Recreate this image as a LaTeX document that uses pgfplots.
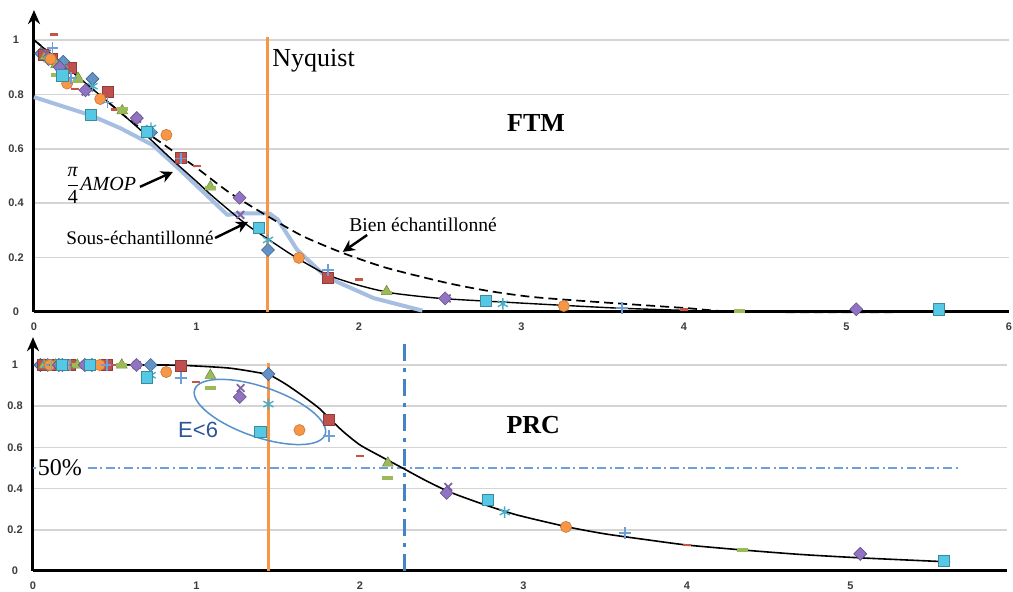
\documentclass[border=0pt]{standalone}
\usepackage{fontspec}
\setmainfont{Liberation Serif}
\setsansfont{Liberation Sans}
\usepackage{pgfplots}
\pgfplotsset{compat=1.18}
\usetikzlibrary{arrows.meta,shapes.geometric}

\definecolor{cBlue}{RGB}{74,126,187}
\definecolor{cRed}{RGB}{192,80,77}
\definecolor{cGreen}{RGB}{155,187,89}
\definecolor{cPurple}{RGB}{128,100,162}
\definecolor{cPurpleL}{RGB}{145,115,195}
\definecolor{cCyan}{RGB}{75,172,198}
\definecolor{cCyanL}{RGB}{85,200,230}
\definecolor{cOrange}{RGB}{247,150,70}
\definecolor{cPlus}{RGB}{110,160,215}
\definecolor{lblue}{RGB}{165,190,225}
\definecolor{nyq}{RGB}{247,150,70}
\definecolor{vblue}{RGB}{70,130,200}
\definecolor{hblue}{RGB}{110,160,215}
\definecolor{ellc}{RGB}{85,145,205}
\definecolor{etext}{RGB}{45,85,150}
\definecolor{gridc}{RGB}{212,212,212}
\definecolor{tickc}{RGB}{60,60,60}

\pgfplotsset{
 myax/.style={scale only axis, axis lines=left,
   axis line style={-},
   x axis line style={-, line width=1.5pt},
   y axis line style={line width=1.5pt, -{Stealth[length=7pt,width=6pt]}},
   ymajorgrids, grid style={draw=gridc, line width=0.75pt},
   major tick length=0pt,
   tick label style={font=\sffamily\bfseries\fontsize{5.5}{6}\selectfont, text=tickc},
   /pgf/number format/assume math mode=true,
   yticklabel style={anchor=center, xshift=-9pt},
   xticklabel style={yshift=-2pt},
   clip=false, ymin=0, ytick={0,0.2,0.4,0.6,0.8,1}},
 mBD/.style={only marks, mark=square*, mark size=2.3pt, mark options={rotate=45, fill=cBlue!85!white, draw=cBlue!80!black, line width=0.3pt}},
 mRS/.style={only marks, mark=square*, mark size=2.7pt, mark options={fill=cRed, draw=cRed!75!black, line width=0.3pt}},
 mGT/.style={only marks, mark=triangle*, mark size=3.1pt, mark options={fill=cGreen, draw=cGreen!75!black, line width=0.3pt}},
 mPX/.style={only marks, mark=x, mark size=2.7pt, mark options={draw=cPurple, line width=0.9pt}},
 mCA/.style={only marks, mark=asterisk, mark size=2.9pt, mark options={draw=cCyan, line width=0.7pt}},
 mOC/.style={only marks, mark=*, mark size=2.8pt, mark options={fill=cOrange, draw=cOrange!80!black, line width=0.3pt}},
 mBP/.style={only marks, mark=+, mark size=2.9pt, mark options={draw=cPlus, line width=0.8pt}},
 mRD/.style={only marks, mark=-, mark size=2pt, mark options={draw=cRed!90!orange, line width=1.4pt}},
 mGD/.style={only marks, mark=-, mark size=2.7pt, mark options={draw=cGreen, line width=1.9pt}},
 mPD/.style={only marks, mark=square*, mark size=2.3pt, mark options={rotate=45, fill=cPurpleL, draw=cPurple!80!black, line width=0.3pt}},
 mCS/.style={only marks, mark=square*, mark size=2.8pt, mark options={fill=cCyanL, draw=cCyan!80!black, line width=0.3pt}},
}

\begin{document}
\begin{tikzpicture}
\useasboundingbox (0pt,0pt) rectangle (506.5pt,296pt);

% ---------------- FTM (top) ----------------
\begin{axis}[myax, at={(17pt,140pt)}, anchor=south west,
  width=487.5pt, height=150.96pt, xmin=0, xmax=6, ymax=1.11,
  xtick={0,1,2,3,4,5,6}]
% sous-echantillonne (light blue)
\addplot[lblue, line width=2pt, line join=round] coordinates {
 (0,0.79) (0.345,0.724) (0.53,0.676) (0.73,0.614) (0.88,0.533) (1.19,0.357)
 (1.27,0.363) (1.45,0.362) (1.5,0.34) (1.62,0.228) (1.8,0.128) (2.09,0.051) (2.39,0.005)};
% Nyquist
\addplot[nyq, line width=1.5pt] coordinates {(1.435,0) (1.435,1.01)};
% markers
\addplot[mBD] coordinates {(0.045,0.95) (0.09,0.93) (0.18,0.92) (0.36,0.857) (0.72,0.66) (1.44,0.228)};
\addplot[mRS] coordinates {(0.057,0.945) (0.113,0.93) (0.226,0.897) (0.4525,0.809) (0.905,0.566) (1.81,0.125)};
\addplot[mGT] coordinates {(0.068,0.94) (0.136,0.91) (0.271,0.86) (0.543,0.74) (1.085,0.46) (2.17,0.075)};
\addplot[mPX] coordinates {(0.079,0.95) (0.159,0.9) (0.3175,0.81) (0.635,0.71) (1.27,0.357) (2.54,0.05)};
\addplot[mCA] coordinates {(0.09,0.93) (0.18,0.91) (0.36,0.83) (0.72,0.676) (1.44,0.265) (2.885,0.03)};
\addplot[mOC] coordinates {(0.102,0.93) (0.204,0.84) (0.4075,0.783) (0.815,0.651) (1.63,0.199) (3.26,0.022)};
\addplot[mBP] coordinates {(0.113,0.97) (0.226,0.86) (0.453,0.77) (0.905,0.565) (1.81,0.154) (3.62,0.015)};
\addplot[mRD] coordinates {(0.125,1.02) (0.25,0.82) (0.5,0.745) (1.0,0.537) (2.0,0.118) (4.0,0.01)};
\addplot[mGD] coordinates {(0.136,0.87) (0.271,0.85) (0.543,0.745) (1.085,0.455) (2.17,0.072) (4.34,0.004)};
\addplot[mPD] coordinates {(0.158,0.90) (0.317,0.815) (0.633,0.713) (1.265,0.42) (2.53,0.05) (5.06,0.01)};
\addplot[mCS] coordinates {(0.174,0.87) (0.348,0.724) (0.695,0.662) (1.385,0.31) (2.78,0.04) (5.57,0.01)};
% bien echantillonne (dashed)
\addplot[black, line width=0.85pt, dash pattern=on 4.5pt off 2.5pt, smooth, tension=0.4] coordinates {
 (0,1) (0.3,0.85) (0.6,0.70) (0.8,0.615) (1.0,0.53) (1.2,0.44) (1.43,0.355) (1.65,0.28)
 (1.9,0.217) (2.17,0.162) (2.54,0.107) (2.8,0.077) (3.07,0.055) (3.46,0.037) (4.0,0.015) (4.4,0.0) (5.92,0)};
% pi/4 AMOP (solid)
\addplot[black, line width=0.7pt, smooth, tension=0.4] coordinates {
 (0,1) (0.15,0.925) (0.3,0.85) (0.5,0.75) (0.65,0.672) (0.85,0.56) (1.0,0.48) (1.1,0.425)
 (1.3,0.325) (1.43,0.272) (1.6,0.205) (1.8,0.138) (2.0,0.098) (2.2,0.07) (2.5,0.05)
 (2.9,0.036) (3.27,0.024) (3.6,0.014) (4.0,0.006) (4.35,0)};
% annotations
\node[anchor=west, font=\fontsize{13}{15}\selectfont, inner sep=0pt] at (axis cs:1.465,0.923) {Nyquist};
\node[font=\fontsize{13}{15}\selectfont\bfseries] at (axis cs:3.09,0.695) {FTM};
\node[font=\fontsize{10}{12}\selectfont, inner sep=0pt] at (axis cs:0.41,0.465) {$\displaystyle\frac{\mbox{\textit{π}}}{\mbox{4}}$\textit{AMOP}};
\draw[line width=1.2pt, -{Stealth[length=6pt,width=6pt]}] (axis cs:0.652,0.460) -- (axis cs:0.855,0.515);
\node[font=\fontsize{9.6}{11}\selectfont, inner sep=0pt] at (axis cs:0.652,0.272) {Sous-échantillonné};
\draw[line width=1.2pt, -{Stealth[length=6pt,width=6pt]}] (axis cs:1.114,0.272) -- (axis cs:1.317,0.331);
\node[font=\fontsize{9.8}{11}\selectfont, inner sep=0pt] at (axis cs:2.394,0.32) {Bien échantillonné};
\draw[line width=1.2pt, -{Stealth[length=6pt,width=6pt]}] (axis cs:2.05,0.283) -- (axis cs:1.90,0.221);
\end{axis}

% ---------------- PRC (bottom) ----------------
\begin{axis}[myax, at={(16.5pt,10.5pt)}, anchor=south west,
  width=487.2pt, height=116.9pt, xmin=0, xmax=5.96, ymax=1.135,
  xtick={0,1,2,3,4,5}]
% 50% line
\addplot[hblue, line width=0.75pt, dash pattern=on 4.5pt off 1.8pt on 1pt off 1.8pt] coordinates {(0,0.5) (5.67,0.5)};
% vertical dash-dot
\addplot[vblue, line width=1.5pt, dash pattern=on 8.5pt off 3.5pt on 2pt off 3.5pt] coordinates {(2.27,0) (2.27,1.135)};
% Nyquist
\addplot[nyq, line width=1.5pt] coordinates {(1.44,0) (1.44,1.01)};
% markers
\addplot[mBD] coordinates {(0.045,1) (0.09,1) (0.18,1) (0.36,1) (0.72,1) (1.44,0.956)};
\addplot[mRS] coordinates {(0.057,1) (0.113,1) (0.226,1) (0.4525,1) (0.905,0.995) (1.81,0.733)};
\addplot[mGT] coordinates {(0.068,1) (0.136,1) (0.271,1) (0.543,1) (1.085,0.95) (2.17,0.524)};
\addplot[mPX] coordinates {(0.079,1) (0.159,1) (0.3175,1) (0.635,1) (1.27,0.888) (2.54,0.408)};
\addplot[mCA] coordinates {(0.09,1) (0.18,1) (0.36,1) (0.72,0.95) (1.44,0.81) (2.885,0.286)};
\addplot[mOC] coordinates {(0.102,1) (0.204,1) (0.4075,1) (0.815,0.966) (1.63,0.684) (3.26,0.214)};
\addplot[mBP] coordinates {(0.113,1) (0.226,1) (0.453,1) (0.905,0.937) (1.81,0.655) (3.62,0.184)};
\addplot[mRD] coordinates {(0.125,1) (0.25,1) (0.5,1) (1.0,0.917) (2.0,0.558) (4.0,0.126)};
\addplot[mGD] coordinates {(0.136,1) (0.271,1) (0.543,1) (1.085,0.888) (2.17,0.451) (4.34,0.102)};
\addplot[mPD] coordinates {(0.158,1) (0.317,1) (0.633,1) (1.265,0.845) (2.53,0.379) (5.06,0.083)};
\addplot[mCS] coordinates {(0.174,1) (0.348,1) (0.695,0.94) (1.39,0.675) (2.78,0.345) (5.57,0.049)};
% PRC curve
\addplot[black, line width=0.8pt, smooth, tension=0.4] coordinates {
 (0,1) (0.8,1.0) (1.0,0.995) (1.2,0.985) (1.35,0.967) (1.45,0.95) (1.55,0.905) (1.65,0.85)
 (1.75,0.79) (1.82,0.735) (1.9,0.675) (2.0,0.612) (2.13,0.555) (2.26,0.5) (2.4,0.44)
 (2.55,0.383) (2.75,0.325) (2.96,0.272) (3.27,0.214) (3.5,0.18) (3.77,0.15) (4.0,0.126)
 (4.34,0.102) (4.7,0.08) (5.08,0.063) (5.61,0.044)};
% annotations
\node[draw=ellc, line width=0.75pt, ellipse, minimum width=69pt, minimum height=25pt, inner sep=0pt, rotate=-19] at (axis cs:1.388,0.772) {};
\node[font=\sffamily\fontsize{11}{13}\selectfont, text=etext] at (axis cs:1.01,0.684) {E<6};
\node[font=\fontsize{13}{15}\selectfont\bfseries] at (axis cs:3.06,0.709) {PRC};
\node[font=\fontsize{12}{14}\selectfont, fill=white, inner sep=1pt] at (axis cs:0.165,0.5) {50\%};
\end{axis}
\end{tikzpicture}
\end{document}
